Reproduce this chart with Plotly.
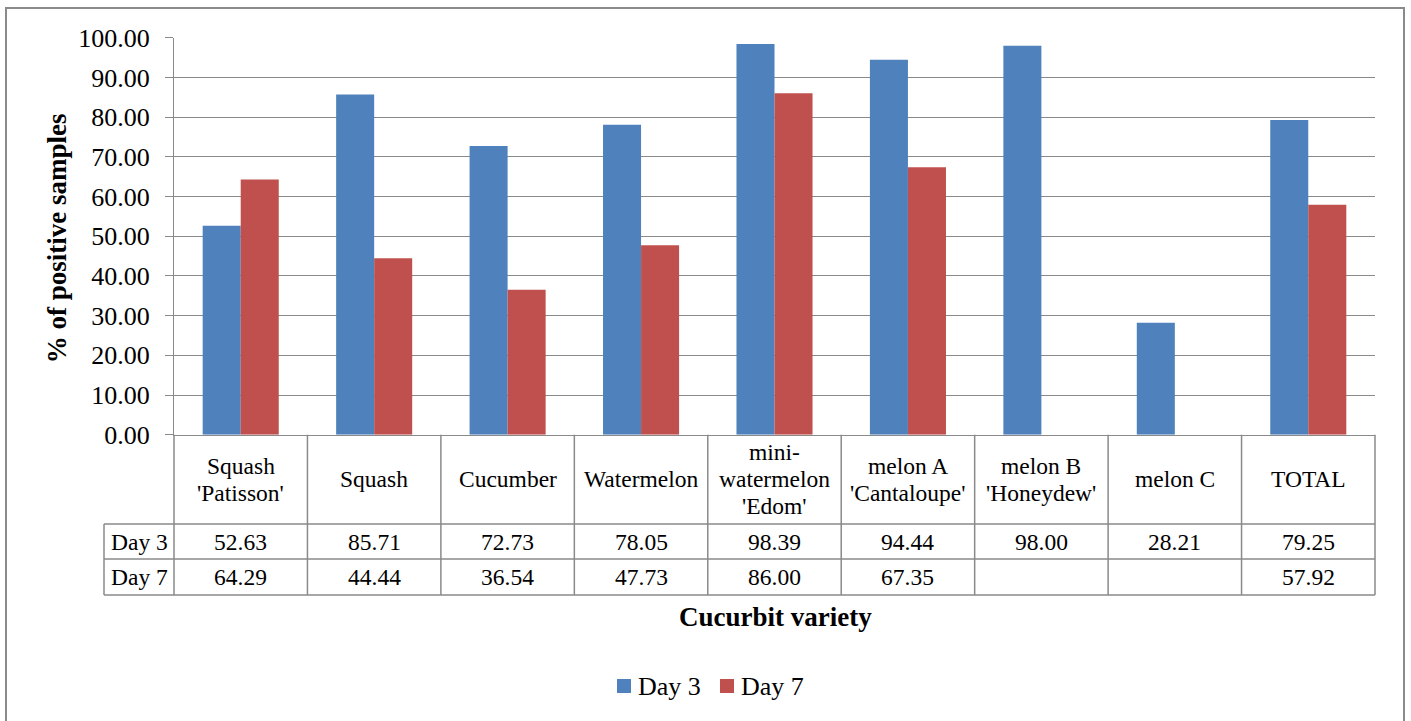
import plotly.graph_objects as go

# Data
categories = ["Squash<br>'Patisson'", "Squash", "Cucumber", "Watermelon",
              "mini-<br>watermelon<br>'Edom'", "melon A<br>'Cantaloupe'",
              "melon B<br>'Honeydew'", "melon C", "TOTAL"]
day3 = [52.63, 85.71, 72.73, 78.05, 98.39, 94.44, 98.00, 28.21, 79.25]
day7 = [64.29, 44.44, 36.54, 47.73, 86.00, 67.35, None, None, 57.92]
series_names = ["Day 3", "Day 7"]
series_colors = ["#4F81BD", "#C0504D"]
y_title = "% of positive samples"
x_title = "Cucurbit variety"

W, H = 1411, 721
FONT = "Liberation Serif, Times New Roman, serif"
GRID = "#8a8a8a"


def px(x):
    return x / W


def py(y):
    return 1 - y / H


# Plot area in pixels
X0, X1 = 174, 1375
Y_TOP, Y_BOT = 37.7, 434.7

fig = go.Figure()
for name, vals, col in zip(series_names, [day3, day7], series_colors):
    fig.add_trace(go.Bar(x=categories, y=vals, name=name,
                         marker=dict(color=col, line=dict(width=0))))

fig.update_layout(
    width=W, height=H,
    margin=dict(l=0, r=0, t=0, b=0, pad=0, autoexpand=False),
    paper_bgcolor="white", plot_bgcolor="white",
    barmode="group", bargap=0.43, bargroupgap=0,
    showlegend=False,
    font=dict(family=FONT, color="black"),
)
fig.update_xaxes(domain=[px(X0), px(X1)], showticklabels=False, ticks="",
                 showgrid=False, showline=True, linecolor=GRID, linewidth=1,
                 zeroline=False, automargin=False)
fig.update_yaxes(domain=[py(Y_BOT), py(Y_TOP)], range=[0, 100], dtick=10,
                 tickformat=".2f", ticks="outside", ticklen=8, tickcolor=GRID,
                 tickfont=dict(family=FONT, size=26, color="black"),
                 ticklabelstandoff=10, automargin=False,
                 showgrid=True, gridcolor=GRID, gridwidth=1,
                 showline=True, linecolor=GRID, linewidth=1, zeroline=False)

shapes = []
annotations = []


def hline(x0, x1, y):
    shapes.append(dict(type="line", xref="paper", yref="paper",
                       x0=px(x0), x1=px(x1), y0=py(y), y1=py(y),
                       line=dict(color=GRID, width=1.5)))


def vline(x, y0, y1):
    shapes.append(dict(type="line", xref="paper", yref="paper",
                       x0=px(x), x1=px(x), y0=py(y0), y1=py(y1),
                       line=dict(color=GRID, width=1.5)))


def text(x, y, s, size=23.5, bold=False, angle=0):
    annotations.append(dict(xref="paper", yref="paper", x=px(x), y=py(y),
                            text=f"<b>{s}</b>" if bold else s, showarrow=False,
                            xanchor="center", yanchor="middle", textangle=angle,
                            font=dict(family=FONT, size=size, color="black")))


# Data table under the axis
n = len(categories)
cw = (X1 - X0) / n
ROW_HEAD_BOT, ROW1_BOT, ROW2_BOT = 524, 559, 595
LABEL_X0 = 104
for i in range(n + 1):
    vline(X0 + i * cw, Y_BOT, ROW2_BOT)
vline(LABEL_X0, ROW_HEAD_BOT, ROW2_BOT)
for yy in (ROW_HEAD_BOT, ROW1_BOT, ROW2_BOT):
    hline(LABEL_X0, X1, yy)

head_mid = (Y_BOT + ROW_HEAD_BOT) / 2
line_h = 27
for i, cat in enumerate(categories):
    cx = X0 + (i + 0.5) * cw
    lines = cat.split("<br>")
    for k, ln in enumerate(lines):
        text(cx, head_mid + (k - (len(lines) - 1) / 2) * line_h, ln)

row_mids = [(ROW_HEAD_BOT + ROW1_BOT) / 2, (ROW1_BOT + ROW2_BOT) / 2]
for name, vals, ym in zip(series_names, [day3, day7], row_mids):
    text((LABEL_X0 + X0) / 2, ym, name)
    for i, v in enumerate(vals):
        if v is not None:
            text(X0 + (i + 0.5) * cw, ym, f"{v:.2f}")

# Axis titles
text(57, (Y_TOP + Y_BOT) / 2 + 2, y_title, size=27, bold=True, angle=-90)
text(775, 617, x_title, size=27, bold=True)

# Legend
leg_y = 686
leg_items_x = [617, 720]
for name, col, lx in zip(series_names, series_colors, leg_items_x):
    shapes.append(dict(type="rect", xref="paper", yref="paper",
                       x0=px(lx), x1=px(lx + 14), y0=py(leg_y + 7), y1=py(leg_y - 7),
                       fillcolor=col, line=dict(width=0)))
    annotations.append(dict(xref="paper", yref="paper", x=px(lx + 19), y=py(leg_y),
                            text=name, showarrow=False, xanchor="left", yanchor="middle",
                            font=dict(family=FONT, size=26, color="black")))

# Chart frame (bottom edge runs past the page)
shapes.append(dict(type="rect", xref="paper", yref="paper",
                   x0=px(6), x1=px(1404), y0=py(740), y1=py(8),
                   line=dict(color=GRID, width=2), fillcolor="rgba(0,0,0,0)"))

fig.update_layout(shapes=shapes, annotations=annotations)
fig.write_html("out.html")
